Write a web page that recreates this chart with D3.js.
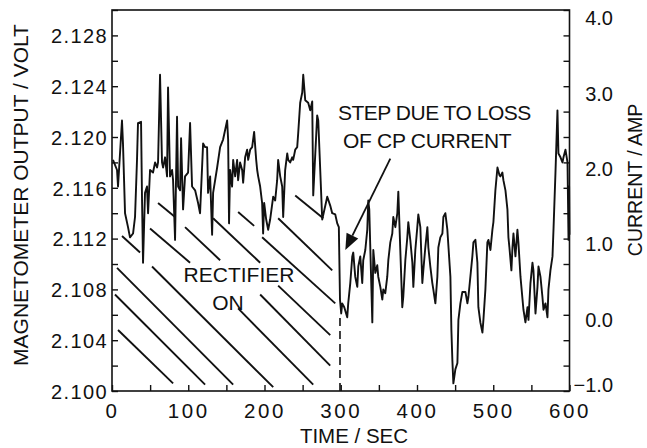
<!DOCTYPE html>
<html><head><meta charset="utf-8">
<script src="https://cdn.jsdelivr.net/npm/d3@7/dist/d3.min.js"></script>
<style>html,body{margin:0;padding:0;background:#fff;}svg{display:block;}</style>
</head><body>
<svg id="chart" width="647" height="448"></svg>
<script>
// ---- data (time / s, magnetometer output / V) ----
const magnetometer = [
[1.3,2.1182],[6.6,2.1174],[7.9,2.1161],[13.1,2.1213],[14.4,2.1195],[17.1,2.1140],[21.0,2.1129],[23.6,2.1121],[27.6,2.1124],[30.2,2.1137],
[32.8,2.1182],[34.1,2.1211],[38.1,2.1212],[39.4,2.1150],[40.7,2.1101],[43.3,2.1156],[45.9,2.1161],[47.3,2.1140],[49.9,2.1174],[53.8,2.1172],
[56.5,2.1180],[59.1,2.1176],[60.4,2.1180],[63.0,2.1249],[65.6,2.1180],[67.0,2.1176],[69.6,2.1184],[72.2,2.1169],[73.5,2.1239],[76.1,2.1169],
[78.8,2.1174],[80.1,2.1166],[82.7,2.1119],[85.3,2.1216],[86.7,2.1161],[89.3,2.1158],[90.6,2.1199],[93.2,2.1143],[95.8,2.1169],[99.8,2.1172],
[102.4,2.1211],[105.0,2.1161],[109.0,2.1158],[112.9,2.1148],[115.5,2.1140],[119.5,2.1195],[122.1,2.1192],[124.7,2.1192],[126.0,2.1156],[128.7,2.1169],
[131.3,2.1123],[132.6,2.1156],[137.9,2.1176],[141.8,2.1192],[145.7,2.1198],[151.0,2.1213],[152.3,2.1198],[153.5,2.1132],[154.9,2.1174],[157.5,2.1161],
[158.9,2.1182],[161.5,2.1169],[164.1,2.1182],[165.4,2.1166],[168.0,2.1180],[170.7,2.1174],[172.0,2.1164],[174.6,2.1184],[177.2,2.1190],[178.6,2.1182],
[181.2,2.1190],[183.8,2.1192],[186.4,2.1204],[189.1,2.1182],[190.4,2.1174],[191.7,2.1169],[194.3,2.1161],[196.9,2.1148],[198.2,2.1124],[199.6,2.1148],
[202.2,2.1135],[204.8,2.1127],[207.4,2.1135],[211.4,2.1153],[214.0,2.1150],[216.6,2.1166],[217.9,2.1182],[220.6,2.1169],[223.2,2.1161],[224.5,2.1137],
[227.1,2.1174],[229.8,2.1187],[231.1,2.1182],[233.7,2.1180],[236.3,2.1184],[237.6,2.1182],[240.3,2.1190],[242.9,2.1192],[244.2,2.1203],[246.8,2.1227],
[249.5,2.1235],[250.8,2.1249],[253.4,2.1229],[257.3,2.1227],[260.0,2.1221],[262.6,2.1228],[263.9,2.1154],[269.1,2.1217],[270.5,2.1213],[275.7,2.1135],
[282.3,2.1153],[286.2,2.1146],[288.8,2.1140],[292.8,2.1139],[295.4,2.1132],[297.5,2.1129],[299.0,2.1072],[300.6,2.1061],[301.9,2.1069],[304.6,2.1066],
[308.5,2.1058],[309.8,2.1069],[312.5,2.1085],[315.1,2.1106],[316.4,2.1109],[319.0,2.1090],[321.7,2.1082],[323.0,2.1098],[325.6,2.1106],[328.2,2.1085],
[329.5,2.1103],[332.2,2.1111],[334.8,2.1127],[336.1,2.1150],[337.4,2.1143],[340.0,2.1085],[341.4,2.1054],[342.7,2.1111],[345.3,2.1093],[347.9,2.1099],
[349.2,2.1090],[351.9,2.1082],[354.5,2.1072],[355.8,2.1080],[358.4,2.1077],[361.0,2.1090],[362.4,2.1103],[365.0,2.1117],[367.6,2.1124],[368.9,2.1137],
[371.6,2.1129],[374.2,2.1140],[375.5,2.1157],[378.1,2.1111],[380.7,2.1066],[382.0,2.1074],[384.7,2.1103],[387.3,2.1121],[388.6,2.1133],[391.2,2.1119],
[393.9,2.1101],[395.2,2.1082],[397.8,2.1111],[400.4,2.1129],[401.7,2.1139],[404.4,2.1129],[407.0,2.1085],[408.3,2.1095],[410.9,2.1113],[413.6,2.1129],
[414.9,2.1113],[417.5,2.1098],[420.1,2.1085],[421.4,2.1080],[424.1,2.1069],[426.7,2.1090],[428.0,2.1113],[430.6,2.1121],[433.3,2.1124],[434.6,2.1137],
[437.2,2.1140],[439.8,2.1127],[443.8,2.1090],[445.1,2.1048],[446.4,2.1024],[447.7,2.1006],[450.3,2.1017],[453.0,2.1022],[454.3,2.1056],[456.9,2.1069],
[459.5,2.1078],[463.5,2.1078],[466.1,2.1069],[467.4,2.1074],[472.6,2.1106],[474.0,2.1117],[476.6,2.1119],[479.2,2.1101],[480.5,2.1066],[483.1,2.1054],
[485.8,2.1046],[487.1,2.1056],[489.7,2.1080],[492.3,2.1117],[493.7,2.1119],[496.3,2.1111],[498.9,2.1127],[500.2,2.1133],[502.8,2.1158],[505.5,2.1176],
[508.1,2.1170],[509.4,2.1169],[512.0,2.1172],[513.3,2.1166],[516.0,2.1158],[518.6,2.1143],[519.9,2.1121],[521.2,2.1113],[523.8,2.1095],[525.2,2.1113],
[526.5,2.1124],[529.1,2.1106],[531.7,2.1127],[533.0,2.1117],[535.7,2.1090],[539.6,2.1064],[542.2,2.1054],[544.9,2.1066],[546.2,2.1056],[548.8,2.1085],
[551.4,2.1101],[552.7,2.1095],[555.4,2.1061],[558.0,2.1082],[559.3,2.1098],[561.9,2.1090],[564.5,2.1074],[565.9,2.1064],[568.5,2.1069],[571.1,2.1058],
[572.4,2.1080],[575.0,2.1095],[577.7,2.1106],[579.0,2.1127],[581.6,2.1172],[584.2,2.1221],[585.5,2.1187],[588.2,2.1184],[590.8,2.1180],[592.1,2.1184],
[594.7,2.1190],[597.4,2.1180],[598.7,2.1119],[599.5,2.1161],[600.0,2.1123]
];

// axis tick values / labels
const timeTicks = [0,50,100,150,200,250,300,350,400,450,500,550,600];
const timeLabels = ["0","100","200","300","400","500","600"];
const voltTicks = [2.100,2.102,2.104,2.106,2.108,2.110,2.112,2.114,2.116,2.118,2.120,2.122,2.124,2.126,2.128,2.130];
const voltLabels = ["2.100","2.104","2.108","2.112","2.116","2.120","2.124","2.128"];
const currentLabels = [-1.0,0.0,1.0,2.0,3.0,4.0];

// hatching of "rectifier on" region: [t1,v1,t2,v2]
const hatch = [
[13.1,2.1122,36.8,2.1109],[60.4,2.1148,82.7,2.1137],[49.9,2.1128,102.4,2.1101],[95.8,2.1129,141.8,2.1103],
[132.6,2.1136,194.3,2.1101],[165.4,2.1141,186.4,2.1130],[196.9,2.1121,292.8,2.1069],[217.9,2.1136,288.8,2.1095],
[240.3,2.1154,277.0,2.1136],[6.6,2.1097,158.9,2.1005],[3.9,2.1076,122.1,2.1005],[7.9,2.1048,80.1,2.1006],
[52.5,2.1098,211.4,2.1003],[217.9,2.1083,286.2,2.1044],[194.3,2.1076,286.2,2.1020],[165.4,2.1065,263.9,2.1005]
];
const stepTime = 299;           // dashed marker time
const stepTop = 2.1058;
const arrowFrom = [365, 2.1183];
const arrowTo = [306, 2.1111];

// ---- drawing ----
const svg = d3.select("#chart");
const L = 112, R = 569.5, T = 10, B = 391;
const x = d3.scaleLinear([0,600],[L,R]);
const y = d3.scaleLinear([2.100,2.130],[B,T]);
const cur = d3.scaleLinear([-1,4],[395,18]);
const font = "'Liberation Sans', Arial, Helvetica, sans-serif";

// hatching
svg.append("g").selectAll("line").data(hatch).join("line")
  .attr("x1",d=>x(d[0])).attr("y1",d=>y(d[1])).attr("x2",d=>x(d[2])).attr("y2",d=>y(d[3]))
  .attr("stroke","#111").attr("stroke-width",1.9);

// dashed line
svg.append("line").attr("x1",x(stepTime)).attr("x2",x(stepTime)).attr("y1",y(2.100)).attr("y2",y(stepTop))
  .attr("stroke","#111").attr("stroke-width",1.6).attr("stroke-dasharray","8,5");

// data line
svg.append("path").datum(magnetometer)
  .attr("d", d3.line().x(d=>x(d[0])).y(d=>y(d[1])))
  .attr("fill","none").attr("stroke","#111").attr("stroke-width",1.9).attr("stroke-linejoin","round");

// axes
const left = d3.axisLeft(y).tickValues(voltTicks).tickSize(-6).tickPadding(4)
  .tickFormat(d=>{const s=d3.format(".3f")(d); return voltLabels.includes(s)?s:"";});
const gl = svg.append("g").attr("transform",`translate(${L},0)`).call(left);
const right = d3.axisRight(y).tickValues(voltTicks).tickSize(-6).tickFormat("");
const gr = svg.append("g").attr("transform",`translate(${R},0)`).call(right);
const bottom = d3.axisBottom(x).tickValues(timeTicks).tickSize(-6).tickPadding(9)
  .tickFormat(d=>timeLabels.includes(String(d))?String(d):"");
const gb = svg.append("g").attr("transform",`translate(0,${B})`).call(bottom);
[gl,gr,gb].forEach(g=>{
  g.select(".domain").remove();
  g.selectAll(".tick line").attr("stroke","#111").attr("stroke-width",1.4);
});
gl.selectAll("text").attr("font-family",font).attr("font-size",20).attr("letter-spacing","1.4px").attr("fill","#111").attr("dy","0.36em");
gb.selectAll("text").attr("font-family",font).attr("font-size",20.5).attr("letter-spacing","2.6px").attr("fill","#111").attr("dx","0px").attr("dy","0.9em");

// right axis labels (current)
svg.append("g").selectAll("text").data(currentLabels).join("text")
  .attr("x",613).attr("y",d=>Math.min(cur(d),B-6)).attr("dy","0.36em")
  .attr("text-anchor","end").attr("font-family",font).attr("font-size",20).attr("fill","#111")
  .text(d=>d3.format(".1f")(d));

// frame
svg.append("rect").attr("x",L).attr("y",T).attr("width",R-L).attr("height",B-T)
  .attr("fill","none").attr("stroke","#111").attr("stroke-width",1.6);

// axis titles
svg.append("text").attr("transform","translate(28,195) rotate(-90)").attr("text-anchor","middle")
  .attr("font-family",font).attr("font-size",21).attr("fill","#111").text("MAGNETOMETER OUTPUT / VOLT");
svg.append("text").attr("transform","translate(642,180) rotate(-90)").attr("text-anchor","middle")
  .attr("font-family",font).attr("font-size",19.5).attr("fill","#111").text("CURRENT / AMP");
svg.append("text").attr("x",354).attr("y",443).attr("text-anchor","middle")
  .attr("font-family",font).attr("font-size",20.5).attr("fill","#111").text("TIME / SEC");

// annotations
const ann = svg.append("g").attr("font-family",font).attr("fill","#111").attr("font-size",21);
ann.append("text").attr("x",338).attr("y",120).attr("letter-spacing","-0.5px").text("STEP DUE TO LOSS");
ann.append("text").attr("x",343).attr("y",148).attr("letter-spacing","-0.3px").text("OF CP CURRENT");
ann.append("text").attr("x",239).attr("y",282).attr("text-anchor","middle").text("RECTIFIER");
ann.append("text").attr("x",228).attr("y",310).attr("text-anchor","middle").text("ON");

// arrow
const ax1 = x(arrowFrom[0]), ay1 = y(arrowFrom[1]), ax2 = x(arrowTo[0]), ay2 = y(arrowTo[1]);
const ang = Math.atan2(ay2-ay1, ax2-ax1), hl = 16, hw = 6.5;
const bx = ax2 - hl*Math.cos(ang), by = ay2 - hl*Math.sin(ang);
svg.append("line").attr("x1",ax1).attr("y1",ay1).attr("x2",bx).attr("y2",by).attr("stroke","#111").attr("stroke-width",1.8);
svg.append("path").attr("d",`M${ax2},${ay2}L${bx+hw*Math.sin(ang)},${by-hw*Math.cos(ang)}L${bx-hw*Math.sin(ang)},${by+hw*Math.cos(ang)}Z`).attr("fill","#111");
</script>
</body></html>
